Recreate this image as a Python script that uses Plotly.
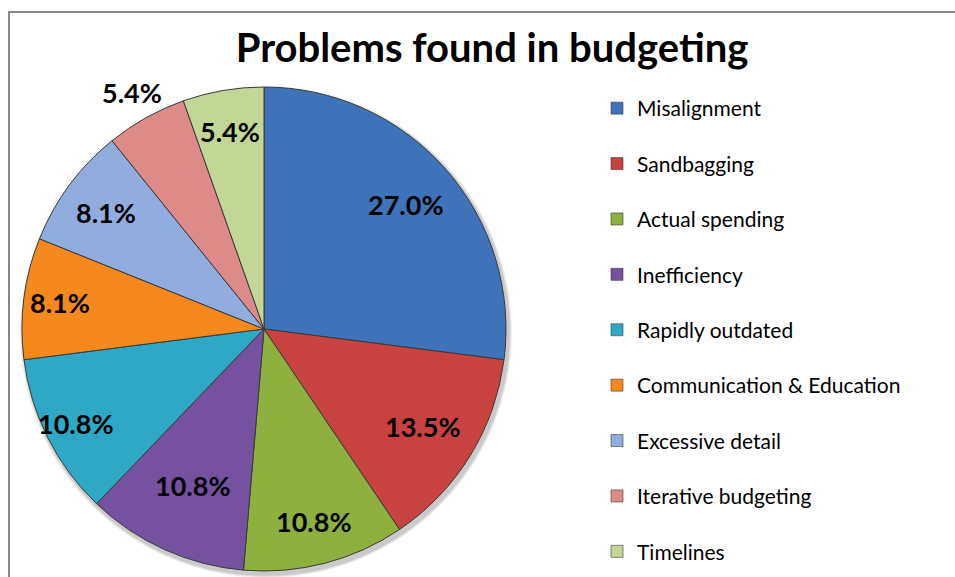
import math
import plotly.graph_objects as go

# Survey responses: number of mentions per budgeting problem
categories = [
    "Misalignment",
    "Sandbagging",
    "Actual spending",
    "Inefficiency",
    "Rapidly outdated",
    "Communication & Education",
    "Excessive detail",
    "Iterative budgeting",
    "Timelines",
]
counts = [10, 5, 4, 4, 4, 3, 3, 2, 2]

colors = [
    "#3E72B9", "#C8423F", "#8DB03E", "#7452A0", "#2FA8C6",
    "#F5891E", "#91ADDF", "#DC8B89", "#C2D796",
]

# Distance of each percentage label from the centre, as a fraction of the radius
label_radius = [0.78, 0.77, 0.82, 0.71, 0.87, 0.85, 0.81, 1.12, 0.83]

W, H = 955, 577
CX, CY, R = 264, 329, 242          # pie centre and radius in pixels
FONT = "Lato, 'Open Sans', sans-serif"

fig = go.Figure()

fig.add_trace(go.Pie(
    labels=categories,
    values=counts,
    sort=False,
    direction="clockwise",
    rotation=0,
    marker=dict(colors=colors, line=dict(color="#3A3A3A", width=1)),
    textinfo="none",
    hoverinfo="label+percent",
    showlegend=False,
    domain=dict(x=[(CX - R) / W, (CX + R) / W],
                y=[1 - (CY + R) / H, 1 - (CY - R) / H]),
))

# Legend entries, one group each so the rows can be spaced out
for name, col in zip(categories, colors):
    fig.add_trace(go.Scatter(
        x=[None], y=[None], mode="markers", name=name, legendgroup=name,
        marker=dict(symbol="square", size=12, color=col,
                    line=dict(color="rgba(60,60,60,0.6)", width=1)),
        hoverinfo="skip", showlegend=True,
    ))

# Percentage labels placed along each slice's mid-angle
total = sum(counts)
annotations = []
cum = 0
for i, v in enumerate(counts):
    mid = (cum + v / 2) / total * 2 * math.pi
    cum += v
    pct = v / total * 100
    rr = label_radius[i] * R
    px = CX + rr * math.sin(mid)
    py = CY - rr * math.cos(mid)
    annotations.append(dict(
        x=px / W, y=1 - py / H, xref="paper", yref="paper",
        text=f"{pct:.1f}%", showarrow=False,
        font=dict(family=FONT, size=27, color="black", weight="bold"),
        xanchor="center", yanchor="middle",
    ))

# Soft drop shadow under the pie
shapes = []
for k, a in [(4, 0.06), (3, 0.07), (2, 0.09)]:
    ox, oy = CX + 2, CY + 3
    shapes.append(dict(
        type="circle", xref="paper", yref="paper", layer="below",
        x0=(ox - R - k) / W, x1=(ox + R + k) / W,
        y0=1 - (oy + R + k) / H, y1=1 - (oy - R - k) / H,
        fillcolor=f"rgba(0,0,0,{a})", line=dict(width=0),
    ))

# Chart-area frame
shapes.append(dict(
    type="rect", xref="paper", yref="paper",
    x0=9 / W, y0=-0.05, x1=1.05, y1=1 - 12 / H,
    line=dict(color="#878787", width=2), layer="above",
))

fig.update_layout(
    width=W, height=H,
    margin=dict(l=0, r=0, t=0, b=0),
    paper_bgcolor="white", plot_bgcolor="white",
    title=dict(
        text="<b>Problems found in budgeting</b>",
        x=492 / W, xanchor="center", y=1 - 48 / H, yanchor="middle",
        font=dict(family=FONT, size=40, color="black"),
    ),
    xaxis=dict(visible=False), yaxis=dict(visible=False),
    legend=dict(
        x=597 / W, xanchor="left", y=1 - 88 / H, yanchor="top",
        font=dict(family=FONT, size=21, color="black"),
        tracegroupgap=25.1, bgcolor="rgba(0,0,0,0)",
        itemclick=False, itemdoubleclick=False,
    ),
    annotations=annotations,
    shapes=shapes,
)

fig.write_html("out.html")
